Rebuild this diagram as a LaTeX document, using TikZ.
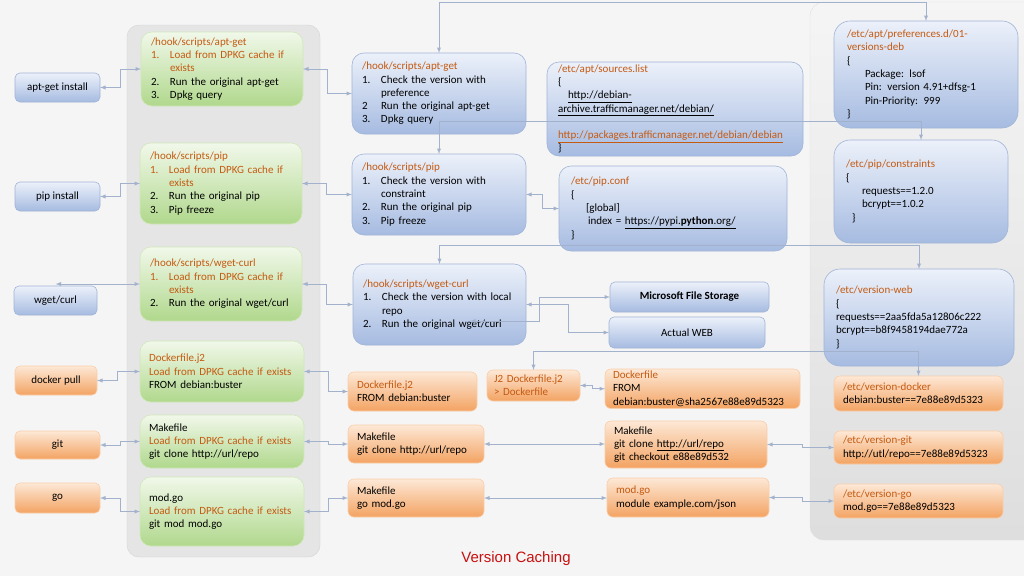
\documentclass[tikz,border=0pt]{standalone}
\usepackage{fontspec}
\setmainfont{Carlito}
\newfontfamily\arialfont{Liberation Sans}
\usetikzlibrary{arrows}
\definecolor{orng}{RGB}{197,90,17}
\definecolor{blutop}{RGB}{236,241,250}
\definecolor{blubot}{RGB}{166,187,225}
\definecolor{bluline}{RGB}{160,180,214}
\definecolor{grntop}{RGB}{241,248,234}
\definecolor{grnbot}{RGB}{176,216,140}
\definecolor{grnline}{RGB}{208,232,186}
\definecolor{orgtop}{RGB}{253,232,214}
\definecolor{orgbot}{RGB}{243,163,98}
\definecolor{orgline}{RGB}{249,206,170}
\definecolor{conline}{RGB}{163,178,204}
\definecolor{titred}{RGB}{200,16,16}
\hyphenpenalty=10000
\exhyphenpenalty=10000
\newcommand{\orn}[1]{\textcolor{orng}{#1}}
\newcommand{\itm}[2]{\makebox[19pt][l]{#1}#2}
\newcommand{\itc}{\hspace*{19pt}}
\newcommand{\boxfont}{\fontsize{11}{13.3}\selectfont}

\begin{document}
\begin{tikzpicture}[x=1pt, y=-1pt, >=latex,
  base/.style={anchor=north west, outer sep=0pt, inner xsep=10pt, inner ysep=2pt, align=left, font=\boxfont, line width=0.6pt},
  blubox/.style={base, draw=bluline, top color=blutop, bottom color=blubot, rounded corners=12pt},
  grnbox/.style={base, draw=grnline, top color=grntop, bottom color=grnbot, rounded corners=11pt},
  orgbox/.style={base, draw=orgline, top color=orgtop, bottom color=orgbot, rounded corners=6pt},
  tagbox/.style={align=center, inner xsep=2pt, rounded corners=5pt},
  con/.style={draw=conline, line width=0.9pt, <->}]
% Background and panels
\fill[black!4] (0,0) rectangle (1024,576);
\useasboundingbox (0,0) rectangle (1024,576);
\filldraw[fill=black!10, draw=black!17, rounded corners=12pt] (127,25) rectangle (320,557);
\draw[draw=black!12, top color=black!4, bottom color=black!13, rounded corners=14pt] (810,2) rectangle (1040,540);

% Commands
\node[blubox, tagbox, minimum width=85pt, minimum height=29pt] (aptin) at (15,73) {apt-get install};
\node[blubox, tagbox, minimum width=85pt, minimum height=29pt] (pipin) at (15,182) {pip install};
\node[blubox, tagbox, minimum width=83pt, minimum height=29pt] (wgin) at (14,286) {wget/curl};
\node[orgbox, tagbox, minimum width=82pt, minimum height=29pt] (dockin) at (15,366) {docker pull};
\node[orgbox, tagbox, minimum width=85pt, minimum height=28pt] (gitin) at (15,431) {git};
\node[orgbox, tagbox, minimum width=85pt, minimum height=30pt] (goin) at (15,483) {go};

% Hook scripts
\node[grnbox, text width=142pt, minimum height=74pt] (aptg) at (141,32) {\orn{/hook/scripts/apt-get}\\\orn{\itm{1.}{Load from DPKG cache if}}\\\orn{\itc exists}\\\itm{2.}{Run the original apt-get}\\\itm{3.}{Dpkg query}};
\node[grnbox, text width=142pt, minimum height=81pt] (pipg) at (140,143) {\orn{/hook/scripts/pip}\\\orn{\itm{1.}{Load from DPKG cache if}}\\\orn{\itc exists}\\\itm{2.}{Run the original pip}\\\itm{3.}{Pip freeze}};
\node[grnbox, text width=142pt, minimum height=74pt] (wgg) at (140,247) {\orn{/hook/scripts/wget-curl}\\\orn{\itm{1.}{Load from DPKG cache if}}\\\orn{\itc exists}\\\itm{2.}{Run the original wget/curl}};
\node[grnbox, text width=146pt, minimum height=61pt, inner xsep=9pt] (dkg) at (140,341) {\orn{Dockerfile.j2}\\\orn{Load from DPKG cache if exists}\\FROM debian:buster};
\node[grnbox, text width=146pt, minimum height=53pt, inner xsep=9pt] (mkg) at (140,415) {Makefile\\\orn{Load from DPKG cache if exists}\\git clone http://url/repo};
\node[grnbox, text width=146pt, minimum height=69pt, inner xsep=9pt] (mgg) at (140,477) {mod.go\\\orn{Load from DPKG cache if exists}\\git mod mod.go};

% Version checks
\node[blubox, text width=154pt, minimum height=81pt] (aptm) at (352,53) {\orn{/hook/scripts/apt-get}\\\itm{1.}{Check the version with}\\\itc preference\\\itm{2}{Run the original apt-get}\\\itm{3.}{Dpkg query}};
\node[blubox, text width=154pt, minimum height=81pt] (pipm) at (352,154) {\orn{/hook/scripts/pip}\\\itm{1.}{Check the version with}\\\itc constraint\\\itm{2.}{Run the original pip}\\\itm{3.}{Pip freeze}};
\node[blubox, text width=153pt, minimum height=81pt] (wgm) at (353,264) {\orn{/hook/scripts/wget-curl}\\\itm{1.}{Check the version with local}\\\itc repo\\\itm{2.}{Run the original wget/curl}};
\node[blubox, text width=234pt, minimum height=94pt, inner xsep=11pt] (srcs) at (547,62) {\orn{/etc/apt/sources.list}\\\{\\\hspace*{10pt}\underline{http://debian-}\\\underline{archive.trafficmanager.net/debian/}\\\mbox{}\\\orn{\underline{http://packages.trafficmanager.net/debian/debian}}\\\}};
\node[blubox, text width=204pt, minimum height=85pt, inner xsep=12pt] (pipc) at (559,166) {\orn{/etc/pip.conf}\\\{\\\hspace*{15pt}[global]\\\hspace*{17pt}index = \underline{https://pypi.\textbf{python}.org/}\\\}};
\node[blubox, tagbox, minimum width=159pt, minimum height=30pt] (msfs) at (610,282) {\textbf{Microsoft File Storage}};
\node[blubox, tagbox, minimum width=156pt, minimum height=31pt] (aweb) at (609,317) {Actual WEB};
\coordinate (wgx) at (470,321);

% Build files
\node[orgbox, text width=111pt, minimum height=39pt, inner xsep=9pt] (dkm) at (348,372) {\orn{Dockerfile.j2}\\FROM debian:buster};
\node[orgbox, text width=79pt, minimum height=31pt, inner xsep=7pt] (j2) at (487,370) {\orn{J2 Dockerfile.j2}\\\orn{> Dockerfile}};
\node[orgbox, text width=179pt, minimum height=39pt, inner xsep=8pt] (dock) at (605,369) {\orn{Dockerfile}\\FROM\\debian:buster@sha2567e88e89d5323};
\node[orgbox, text width=118pt, minimum height=38pt, inner xsep=9pt] (mkm) at (348,425) {Makefile\\git clone http://url/repo};
\node[orgbox, text width=144pt, minimum height=47pt, inner xsep=9pt] (mkr) at (605,421) {Makefile\\git clone \underline{http://url/repo}\\git checkout e88e89d532};
\node[orgbox, text width=118pt, minimum height=38pt, inner xsep=9pt] (mgm) at (348,479) {Makefile\\go mod.go};
\node[orgbox, text width=144pt, minimum height=39pt, inner xsep=9pt] (modr) at (607,478) {\orn{mod.go}\\module example.com/json};

% Version files
\node[blubox, text width=158pt, minimum height=107pt, inner xsep=13pt, rounded corners=16pt] (pref) at (834,21) {\orn{/etc/apt/preferences.d/01-}\\\orn{versions-deb}\\\{\\\hspace*{18pt}Package: lsof\\\hspace*{18pt}Pin: version 4.91+dfsg-1\\\hspace*{18pt}Pin-Priority: 999\\\}};
\node[blubox, text width=150pt, minimum height=103pt, inner xsep=12pt, rounded corners=16pt] (cons) at (834,140) {\orn{/etc/pip/constraints}\\\{\\\hspace*{16pt}requests==1.2.0\\\hspace*{16pt}bcrypt==1.0.2\\\hspace*{6pt}\}};
\node[blubox, text width=166pt, minimum height=97pt, inner xsep=12pt, rounded corners=16pt] (vweb) at (824,269) {\orn{/etc/version-web}\\\{\\requests==2aa5fda5a12806c222\\bcrypt==b8f9458194dae772a\\\}};
\node[orgbox, text width=151pt, minimum height=35pt, inner xsep=9pt] (vdock) at (834,376) {\orn{/etc/version-docker}\\debian:buster==7e88e89d5323};
\node[orgbox, text width=151pt, minimum height=33pt, inner xsep=9pt] (vgit) at (834,431) {\orn{/etc/version-git}\\http://utl/repo==7e88e89d5323};
\node[orgbox, text width=151pt, minimum height=34pt, inner xsep=9pt] (vgo) at (834,484) {\orn{/etc/version-go}\\mod.go==7e88e89d5323};

% Commands to hooks
\draw[con] (aptin.east) -- ++(20,0) |- (aptg.west);
\draw[con] (pipin.east) -- ++(20,0) |- (pipg.west);
\draw[con] (wgg.west) -- (wgg.west -| wgin.north);
\draw[con] (dockin.east) -- ++(20,0) |- (dkg.west);
\draw[con] (gitin.east) -- ++(20,0) |- (mkg.west);
\draw[con] (goin.east) -- ++(20,0) |- (mgg.west);

% Hooks to checks
\draw[con] (aptg.east) -- ++(24,0) |- (aptm.west);
\draw[con] (pipg.east) -- ++(24,0) |- (pipm.west);
\draw[con] (wgg.east) -- ++(24,0) |- (wgm.west);
\draw[con] (dkg.east) -- ++(24,0) |- (dkm.west);
\draw[con] (mkg.east) -- ++(24,0) |- (mkm.west);
\draw[con] (mgg.east) -- ++(24,0) |- (mgm.west);

% Checks to sources
\draw[con] (pipm.east) -- ++(16,0) |- (pipc.west);
\draw[con] (wgm.east) -- ++(42,0) |- (aweb.west);
\draw[con] (wgx) -- ++(69,0) |- (msfs.west);
\draw[con] (j2.east) -- ++(12,0) |- (dock.west);
\draw[con] (mkm.east) -- (mkm.east -| mkr.west);
\draw[con] (mgm.east) -- (mgm.east -| modr.west);
\draw[con] (mkr.east) -- ++(35,0) |- (vgit.west);
\draw[con] (modr.east) -- ++(33,0) |- (vgo.west);

% Lookups of version files
\draw[con] (aptm.north) -- ++(0,-51) -| (pref.north);
\draw[con] (pipm.north) -- ++(0,-33) -| (cons.north);
\draw[con] (wgm.north) -- ++(0,-19) -| (vweb.north);
\draw[con] (j2.north) -- ++(0,-19) -| (vdock.north);

% Title
\node[font=\arialfont\fontsize{15}{18}\selectfont, text=titred] (ttl) at (516,559) {Version Caching};
\end{tikzpicture}
\end{document}
